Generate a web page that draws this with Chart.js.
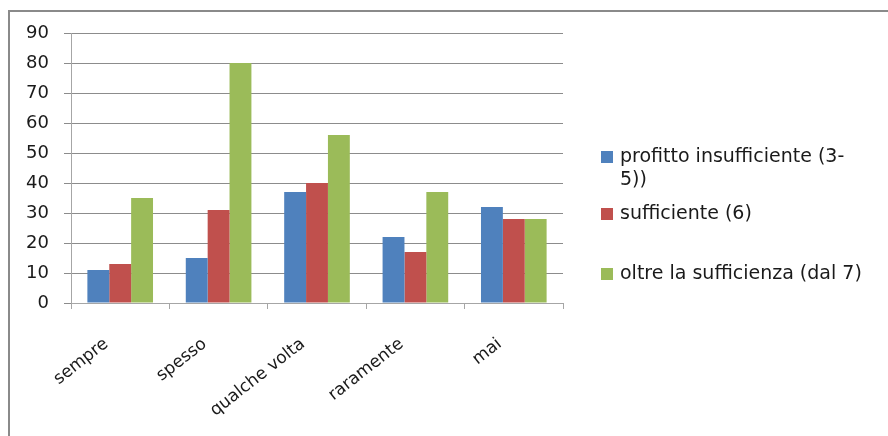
<!DOCTYPE html>
<html>
<head>
    <meta charset="utf-8" />
    <title>Profitto</title>
    <script src="https://cdn.jsdelivr.net/npm/chart.js"></script>
    <style>
        html, body { margin: 0; padding: 0; background: #fff; }
        #box { position: relative; width: 888px; height: 436px; }
    </style>
</head>
<body>
    <div id="box">
        <canvas id="grafico"></canvas>
    </div>

    <script>
        const categorie = ['sempre', 'spesso', 'qualche volta', 'raramente', 'mai'];
        const serieNomi = ['profitto insufficiente (3-5))', 'sufficiente (6)', 'oltre la sufficienza (dal 7)'];
        const insufficiente = [11, 15, 37, 22, 32];
        const sufficiente = [13, 31, 40, 17, 28];
        const oltre = [35, 80, 56, 37, 28];
        const colori = ['#4F81BD', '#C0504D', '#9BBB59'];
        const yTicks = [0, 10, 20, 30, 40, 50, 60, 70, 80, 90];

        const FONT = 'DejaVu Sans';

        // cornice grigia attorno al grafico
        const cornice = {
            id: 'cornice',
            beforeDraw(chart) {
                const ctx = chart.ctx;
                ctx.save();
                ctx.strokeStyle = '#8a8a8a';
                ctx.lineWidth = 2;
                ctx.beginPath();
                ctx.moveTo(9, 436);
                ctx.lineTo(9, 11);
                ctx.lineTo(888, 11);
                ctx.stroke();
                ctx.restore();
            }
        };

        // legenda a destra, con a capo come in Excel
        const legenda = {
            id: 'legenda',
            afterDraw(chart) {
                const ctx = chart.ctx;
                const x0 = 601, maxW = 246, lineH = 23;
                const tops = [157, 214, 274];
                ctx.save();
                ctx.font = '19px "' + FONT + '"';
                ctx.textBaseline = 'middle';
                chart.data.datasets.forEach((ds, i) => {
                    const parti = ds.label.split(/(?<=[ -])/);
                    const righe = [];
                    let riga = '';
                    parti.forEach(p => {
                        if (riga && ctx.measureText(riga + p).width > maxW) {
                            righe.push(riga);
                            riga = p;
                        } else {
                            riga += p;
                        }
                    });
                    righe.push(riga);
                    ctx.fillStyle = ds.backgroundColor;
                    ctx.fillRect(x0, tops[i] - 6, 12, 12);
                    ctx.fillStyle = '#1a1a1a';
                    righe.forEach((r, k) => ctx.fillText(r, x0 + 19, tops[i] + k * lineH));
                });
                ctx.restore();
            }
        };

        const ctx = document.getElementById('grafico').getContext('2d');
        new Chart(ctx, {
            type: 'bar',
            data: {
                labels: categorie,
                datasets: [
                    { label: serieNomi[0], data: insufficiente, backgroundColor: colori[0] },
                    { label: serieNomi[1], data: sufficiente, backgroundColor: colori[1] },
                    { label: serieNomi[2], data: oltre, backgroundColor: colori[2] }
                ]
            },
            options: {
                responsive: true,
                maintainAspectRatio: false,
                animation: false,
                layout: { padding: { top: 33, right: 325, left: 0, bottom: 0 } },
                datasets: { bar: { categoryPercentage: 0.667, barPercentage: 1, borderWidth: 0 } },
                plugins: { legend: { display: false }, tooltip: { enabled: false } },
                scales: {
                    x: {
                        afterFit: s => { s.height = 133; },
                        grid: { drawOnChartArea: false, drawTicks: true, tickLength: 6, color: '#a6a6a6', offset: true },
                        border: { color: '#a6a6a6' },
                        ticks: {
                            minRotation: 38, maxRotation: 38,
                            padding: 25,
                            labelOffset: -14,
                            color: '#1a1a1a',
                            font: { family: FONT, size: 17 }
                        }
                    },
                    y: {
                        min: 0, max: 90,
                        afterFit: s => { s.width = 71; },
                        afterBuildTicks: s => { s.ticks = yTicks.map(v => ({ value: v })); },
                        grid: { color: '#8c8c8c', tickLength: 7 },
                        border: { color: '#a6a6a6' },
                        ticks: {
                            padding: 15,
                            color: '#1a1a1a',
                            font: { family: FONT, size: 18 }
                        }
                    }
                }
            },
            plugins: [cornice, legenda]
        });
    </script>
</body>
</html>
